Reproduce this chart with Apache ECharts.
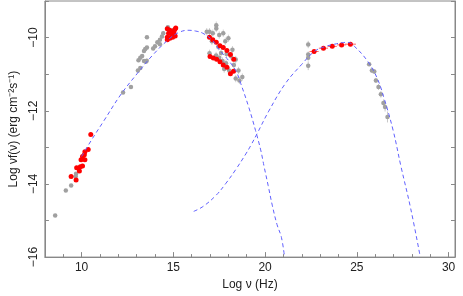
<!DOCTYPE html>
<html><head><meta charset="utf-8">
<script src="https://cdn.jsdelivr.net/npm/echarts@6/dist/echarts.min.js"></script>
<style>html,body{margin:0;padding:0;background:#fff}#c{width:463px;height:296px}</style>
</head><body><div id="c"></div>
<script>
const xTickLabels = [10, 15, 20, 25, 30];
const yTickLabels = [-16, -14, -12, -10];

const radioRed = [[10.50,-12.65],[10.36,-13.06],[10.18,-13.12],[10.15,-13.2],[10.05,-13.25],[9.97,-13.34],[10.18,-13.34],[10.05,-13.51],[9.93,-13.53],[9.73,-13.56],[9.88,-13.65],[9.43,-13.8],[9.70,-13.89]];
const radioGray = [[9.70,-13.72],[9.68,-13.8],[9.43,-14.04],[9.14,-14.18],[8.56,-14.86]];
const irGray = [[12.26,-11.5],[12.69,-11.35],[13.07,-10.9],[13.2,-10.83],[13.1,-10.62],[13.2,-10.55],[13.3,-10.5],[13.4,-10.64],[13.5,-10.66],[13.55,-10.63],[13.4,-10.37],[13.47,-10.31],[13.56,-10.27],[13.56,-9.99],[13.9,-10.3],[14.0,-10.24],[14.13,-10.13],[14.27,-10.06],[14.38,-9.97],[14.45,-9.88],[14.27,-10.18],[14.8,-9.88],[15.0,-9.8],[14.7,-9.72]];
const optRed = [[14.67,-9.76],[14.81,-9.80],[14.96,-9.84],[15.08,-9.78],[15.13,-9.74],[14.74,-9.88],[14.9,-9.91],[15.03,-9.87],[14.67,-10.06],[14.81,-10.02],[14.96,-9.99],[15.1,-9.96],[14.67,-9.99]];
const xrayGray = [[16.82,-9.84],[16.97,-9.84],[17.15,-9.88],[17.34,-9.66],[17.34,-9.75],[17.5,-9.93],[17.72,-9.88],[17.83,-10.1],[18.0,-10.02],[18.22,-10.33],[18.13,-10.5],[18.4,-10.6],[16.97,-10.43],[17.33,-10.49],[17.5,-10.55],[17.68,-10.64],[17.77,-10.86],[18.04,-10.9],[18.4,-11.12],[18.55,-10.9],[18.76,-11.08],[18.6,-11.17],[17.6,-10.42],[17.87,-10.7],[17.1,-10.1],[17.45,-10.25],[17.9,-10.45],[18.3,-10.75]];
const xrayRed = [[16.97,-9.99],[17.15,-10.06],[17.34,-10.13],[17.54,-10.22],[17.72,-10.27],[17.92,-10.35],[18.11,-10.46],[18.29,-10.59],[17.0,-10.52],[17.18,-10.56],[17.36,-10.59],[17.54,-10.66],[17.72,-10.75],[17.92,-10.81],[18.11,-10.99],[18.28,-10.92]];
const lateGray = [[22.35,-10.19],[22.35,-10.46],[22.35,-10.55],[22.35,-10.77]];
const fermiRed = [[22.67,-10.38],[23.18,-10.29],[23.66,-10.24],[24.17,-10.20],[24.65,-10.18]];
const fermiXErr = [0.25,0.25,0.25,0.25,0.3];
const tevGray = [[25.67,-10.73],[25.82,-10.9],[25.95,-10.93],[26.04,-11.17],[26.18,-11.35],[26.31,-11.55],[26.45,-11.79],[26.54,-11.9],[26.67,-12.17]];
const tevYErr = [0.05,0.06,0.06,0.07,0.08,0.09,0.1,0.12,0.15];
const syncModel = [[10.0,-13.25],[10.54,-12.8],[11.22,-12.27],[12.12,-11.57],[13.02,-10.99],[13.91,-10.46],[14.81,-10.02],[15.3,-9.86],[15.8,-9.8],[16.2,-9.82],[16.6,-9.88],[17.1,-10.06],[17.5,-10.33],[18.0,-10.62],[18.4,-10.9],[18.67,-11.25],[19.12,-11.92],[19.48,-12.54],[19.76,-13.07],[19.94,-13.51],[20.17,-14.05],[20.39,-14.58],[20.65,-15.11],[20.89,-15.46],[21.06,-16.0]];
const iCModel = [[16.11,-14.75],[16.61,-14.62],[17.33,-14.31],[17.87,-13.98],[18.41,-13.6],[18.95,-13.18],[19.22,-12.95],[19.58,-12.61],[20.2,-12.01],[21.1,-11.26],[22.0,-10.73],[22.71,-10.37],[23.3,-10.24],[23.79,-10.18],[24.2,-10.14],[24.5,-10.13],[24.87,-10.24],[25.58,-10.64],[26.1,-11.1],[26.48,-11.65],[26.98,-12.54],[27.4,-13.51],[27.93,-14.66],[28.44,-15.95]];

const minus = v => String(v).replace('-', '\u2212');
const GRAY = '#a0a0a0', RED = '#ff0000', BLUE = '#6060ff', AX = '#888';

function vErr(points, errs, color) {
  return {
    type: 'custom', data: points.map((p, i) => [p[0], p[1] - errs[i], p[1] + errs[i]]),
    renderItem: (params, api) => {
      const a = api.coord([api.value(0), api.value(1)]);
      const b = api.coord([api.value(0), api.value(2)]);
      return {type: 'line', shape: {x1: a[0], y1: a[1], x2: b[0], y2: b[1]}, style: {stroke: color, lineWidth: 1}};
    }, z: 1
  };
}
function hErr(points, errs, color) {
  return {
    type: 'custom', data: points.map((p, i) => [p[0] - errs[i], p[0] + errs[i], p[1]]),
    renderItem: (params, api) => {
      const a = api.coord([api.value(0), api.value(2)]);
      const b = api.coord([api.value(1), api.value(2)]);
      return {type: 'line', shape: {x1: a[0], y1: a[1], x2: b[0], y2: b[1]}, style: {stroke: color, lineWidth: 1}};
    }, z: 1
  };
}
const sc = (d, c, s) => ({type: 'scatter', data: d, symbolSize: s, itemStyle: {color: c, opacity: 1}, z: c === RED ? 4 : 3, silent: true});
const allInts = []; for (let i = 9; i <= 30; i++) allInts.push(i);

const chart = echarts.init(document.getElementById('c'), null, {renderer: 'canvas'});
const txt = {fontFamily: 'Liberation Sans, Arial, sans-serif', fontSize: 12, color: '#222'};
chart.setOption({
  animation: false,
  grid: {left: 41, right: 8, top: 1, bottom: 32, show: true, borderColor: AX, borderWidth: 1},
  xAxis: [
    {type: 'value', min: 8, max: 30.35, name: 'Log \u03bd (Hz)', nameLocation: 'middle', nameGap: 17, nameTextStyle: txt,
     axisLine: {show: true, lineStyle: {color: AX}}, splitLine: {show: false},
     axisTick: {inside: true, length: 5, lineStyle: {color: AX}, customValues: xTickLabels},
     axisLabel: {...txt, margin: 5, customValues: xTickLabels}},
    {type: 'value', min: 8, max: 30.35, position: 'bottom', gridIndex: 0,
     axisLine: {show: false}, splitLine: {show: false}, axisLabel: {show: false},
     axisTick: {inside: true, length: 3, lineStyle: {color: AX}, customValues: allInts}}
  ],
  yAxis: [
    {type: 'value', min: -16, max: -9, interval: 1, name: 'Log \u03bdf(\u03bd) (erg cm\u207b\u00b2s\u207b\u00b9)', nameLocation: 'middle', nameGap: 24, nameRotate: 90, nameTextStyle: txt,
     axisLine: {show: true, lineStyle: {color: AX}}, splitLine: {show: false},
     axisTick: {inside: true, length: 4, lineStyle: {color: AX}},
     axisLabel: {...txt, rotate: 90, margin: 5, customValues: yTickLabels, formatter: minus}},
    {type: 'value', min: -16, max: -9, interval: 1, position: 'right',
     axisLine: {show: true, lineStyle: {color: AX}}, splitLine: {show: false}, axisLabel: {show: false},
     axisTick: {inside: true, length: 4, lineStyle: {color: AX}}}
  ],
  series: [
    vErr(lateGray, [0.1,0.08,0.08,0.12], '#c8c8c8'),
    vErr(tevGray, tevYErr, '#c8c8c8'),
    vErr(xrayGray, xrayGray.map(() => 0.1), '#d0d0d0'),
    vErr(irGray, irGray.map(() => 0.05), '#d0d0d0'),
    hErr(fermiRed, fermiXErr, '#ff6060'),
    vErr(fermiRed, fermiRed.map(() => 0.04), '#ff6060'),
    vErr(xrayRed, xrayRed.map(() => 0.05), '#ff6060'),
    sc(radioGray, GRAY, 4.5), sc(irGray, GRAY, 4.5), sc(xrayGray, GRAY, 4.5), sc(lateGray, GRAY, 4.5), sc(tevGray, GRAY, 4.5),
    {type: 'line', data: syncModel, smooth: 0.4, symbol: 'none', lineStyle: {color: BLUE, width: 1, type: [4, 3]}, z: 5, silent: true},
    {type: 'line', data: iCModel, smooth: 0.4, symbol: 'none', lineStyle: {color: BLUE, width: 1, type: [4, 3]}, z: 5, silent: true},
    sc(radioRed, RED, 5), sc(optRed, RED, 5), sc(xrayRed, RED, 5), sc(fermiRed, RED, 5)
  ]
});
</script></body></html>
